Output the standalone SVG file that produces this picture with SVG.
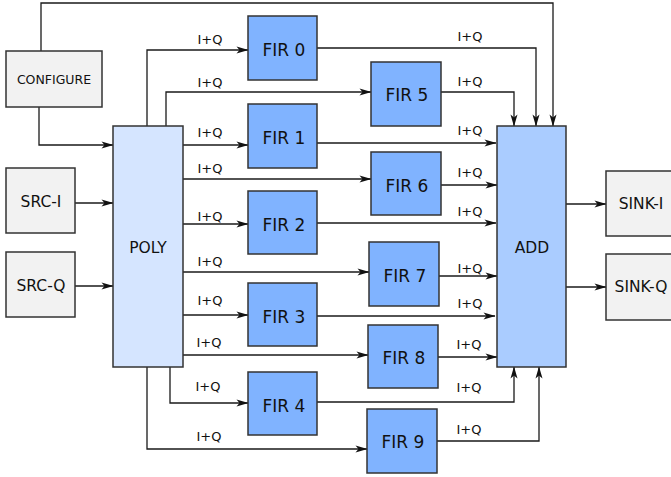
<svg xmlns="http://www.w3.org/2000/svg" width="671" height="477" viewBox="0 0 671 477">
<defs>
<marker id="ah" markerUnits="userSpaceOnUse" markerWidth="12" markerHeight="8" refX="11.5" refY="4" orient="auto" overflow="visible">
<path d="M0,0.5 L12,4 L0,7.5 L3,4 Z" fill="#111"/>
</marker>
<style>
.box{stroke:#333;stroke-width:1.5}
.gray{fill:#f2f2f2}
.fir{fill:#80b3ff}
.poly{fill:#d5e5ff}
.add{fill:#aaccff}
.c{fill:none;stroke:#1a1a1a;stroke-width:1.3;marker-end:url(#ah)}
text{font-family:"DejaVu Sans","Liberation Sans",sans-serif;fill:#111;text-anchor:middle}
.fl{font-size:17px}
.bl{font-size:15.5px}
.lb{font-size:13px}
</style>
</defs>
<rect width="671" height="477" fill="#fff"/>
<g id="connectors">
<path class="c" d="M41,51 V3 H553 V126"/>
<path class="c" d="M39,107 V145 H113"/>
<path class="c" d="M75,203 H113"/>
<path class="c" d="M75,286 H113"/>
<path class="c" d="M147,126 V50 H248"/>
<path class="c" d="M166,126 V92 H371"/>
<path class="c" d="M183,145 H248"/>
<path class="c" d="M183,179 H371"/>
<path class="c" d="M183,224 H248"/>
<path class="c" d="M183,272 H369"/>
<path class="c" d="M183,315 H248"/>
<path class="c" d="M183,355 H368"/>
<path class="c" d="M170,367 V403 H248"/>
<path class="c" d="M147,367 V449 H367"/>
<path class="c" d="M317,48 H536 V126"/>
<path class="c" d="M441,92 H514 V126"/>
<path class="c" d="M317,143 H496"/>
<path class="c" d="M441,185 H497"/>
<path class="c" d="M317,223 H496"/>
<path class="c" d="M439,276 H497"/>
<path class="c" d="M317,316 H495"/>
<path class="c" d="M438,357 H497"/>
<path class="c" d="M317,402 H514 V367"/>
<path class="c" d="M437,441 H539 V367"/>
<path class="c" d="M566,204 H606"/>
<path class="c" d="M566,287 H606"/>
<g class="lb">
<text x="210" y="44">I+Q</text>
<text x="210" y="87">I+Q</text>
<text x="210" y="137">I+Q</text>
<text x="210" y="173">I+Q</text>
<text x="210" y="221">I+Q</text>
<text x="210" y="266">I+Q</text>
<text x="210" y="305">I+Q</text>
<text x="209" y="347">I+Q</text>
<text x="208" y="391">I+Q</text>
<text x="209" y="441">I+Q</text>
<text x="470" y="41">I+Q</text>
<text x="470" y="86">I+Q</text>
<text x="470" y="135">I+Q</text>
<text x="470" y="177">I+Q</text>
<text x="470" y="216">I+Q</text>
<text x="470" y="273">I+Q</text>
<text x="470" y="308">I+Q</text>
<text x="469" y="349">I+Q</text>
<text x="469" y="392">I+Q</text>
<text x="469" y="434">I+Q</text>
</g>
</g>
<g id="configure"><rect class="box gray" x="6" y="51" width="96" height="56"/><text x="54" y="84" font-size="12.5">CONFIGURE</text></g>
<g id="src-i"><rect class="box gray" x="6" y="168" width="69" height="65"/><text class="bl" x="41" y="207">SRC-I</text></g>
<g id="src-q"><rect class="box gray" x="6" y="252" width="69" height="65"/><text class="bl" x="41" y="291">SRC-Q</text></g>
<g id="poly"><rect class="box poly" x="113" y="126" width="70" height="241"/><text class="bl" x="148" y="253">POLY</text></g>
<g id="add"><rect class="box add" x="497" y="126" width="69" height="241"/><text class="bl" x="532" y="253">ADD</text></g>
<g id="sink-i"><rect class="box gray" x="606" y="171" width="72" height="65"/><text class="bl" x="641" y="209">SINK-I</text></g>
<g id="sink-q"><rect class="box gray" x="606" y="254" width="72" height="66"/><text class="bl" x="641" y="292">SINK-Q</text></g>
<g id="fir0"><rect class="box fir" x="248" y="16" width="69" height="64"/><text class="fl" x="284" y="56">FIR 0</text></g>
<g id="fir1"><rect class="box fir" x="248" y="104" width="69" height="64"/><text class="fl" x="284" y="144">FIR 1</text></g>
<g id="fir2"><rect class="box fir" x="248" y="191" width="69" height="63"/><text class="fl" x="284" y="231">FIR 2</text></g>
<g id="fir3"><rect class="box fir" x="248" y="283" width="69" height="63"/><text class="fl" x="284" y="323">FIR 3</text></g>
<g id="fir4"><rect class="box fir" x="248" y="372" width="69" height="63"/><text class="fl" x="284" y="412">FIR 4</text></g>
<g id="fir5"><rect class="box fir" x="371" y="62" width="70" height="64"/><text class="fl" x="407" y="101">FIR 5</text></g>
<g id="fir6"><rect class="box fir" x="371" y="152" width="70" height="63"/><text class="fl" x="407" y="192">FIR 6</text></g>
<g id="fir7"><rect class="box fir" x="369" y="242" width="70" height="64"/><text class="fl" x="405" y="282">FIR 7</text></g>
<g id="fir8"><rect class="box fir" x="368" y="325" width="70" height="63"/><text class="fl" x="404" y="364">FIR 8</text></g>
<g id="fir9"><rect class="box fir" x="367" y="409" width="70" height="64"/><text class="fl" x="403" y="448">FIR 9</text></g>
</svg>
